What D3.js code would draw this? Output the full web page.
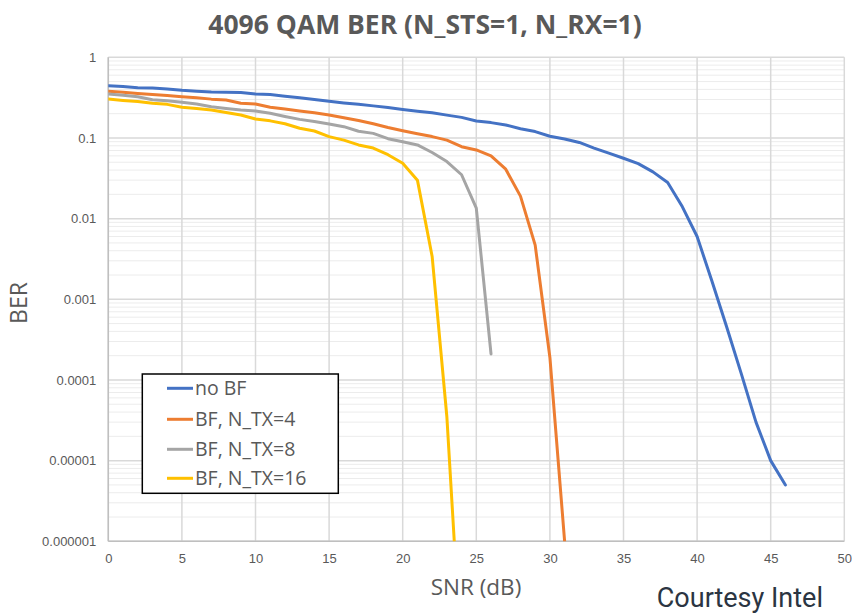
<!DOCTYPE html>
<html><head><meta charset="utf-8">
<script src="https://cdn.jsdelivr.net/npm/d3@7"></script>
<style>body{margin:0;background:#fff}svg{display:block}</style>
</head><body>
<script>
const seriesNames = ["no BF", "BF, N_TX=4", "BF, N_TX=8", "BF, N_TX=16"];
const seriesColors = ["#4472C4", "#ED7D31", "#A5A5A5", "#FFC000"];
const snrNoBF = d3.range(0, 47);
const berNoBF = [0.445,0.435,0.42,0.415,0.405,0.39,0.38,0.372,0.368,0.365,0.35,0.345,0.33,0.315,0.30,0.285,0.272,0.262,0.25,0.238,0.226,0.215,0.205,0.192,0.18,0.162,0.155,0.145,0.13,0.12,0.105,0.097,0.088,0.075,0.065,0.056,0.048,0.038,0.028,0.014,0.006,0.0017,0.00046,0.00012,0.00003,0.00001,0.000005];
const snrTx4 = d3.range(0, 32);
const berTx4 = [0.38,0.37,0.357,0.345,0.335,0.325,0.315,0.303,0.295,0.27,0.263,0.24,0.228,0.216,0.205,0.193,0.178,0.165,0.15,0.135,0.123,0.113,0.104,0.094,0.078,0.071,0.06,0.041,0.019,0.0047,0.00019,0.000001];
const snrTx8 = d3.range(0, 27);
const berTx8 = [0.35,0.338,0.325,0.298,0.29,0.277,0.264,0.244,0.232,0.222,0.216,0.202,0.185,0.17,0.16,0.149,0.138,0.121,0.114,0.098,0.09,0.082,0.066,0.051,0.035,0.0135,0.00021];
const snrTx16 = d3.range(0, 25);
const berTx16 = [0.304,0.292,0.283,0.27,0.261,0.24,0.232,0.222,0.207,0.193,0.172,0.163,0.15,0.132,0.122,0.104,0.094,0.082,0.075,0.062,0.0485,0.03,0.0034,0.000035,0.00000003];
const xTicks = [0,5,10,15,20,25,30,35,40,45,50];
const yTickLabels = ["1","0.1","0.01","0.001","0.0001","0.00001","0.000001"];
const titleText = "4096 QAM BER (N_STS=1, N_RX=1)";

const series = [
  {x: snrNoBF, y: berNoBF},
  {x: snrTx4, y: berTx4},
  {x: snrTx8, y: berTx8},
  {x: snrTx16, y: berTx16}
];

const W = 852, H = 614;
const L = 108.3, R = 844.3, T = 57.3, B = 541.3;
const svg = d3.select("body").append("svg").attr("width", W).attr("height", H)
  .style("font-family", "'Open Sans', 'Liberation Sans', sans-serif");

const x = d3.scaleLinear().domain([0, 50]).range([L, R]);
const y = d3.scaleLog().domain([1e-6, 1]).range([B, T]);

// minor gridlines
const minor = [];
for (let e = -6; e < 0; e++) for (let m = 2; m <= 9; m++) minor.push(m * Math.pow(10, e));
svg.append("g").selectAll("line").data(minor).join("line")
  .attr("x1", L).attr("x2", R).attr("y1", d => y(d)).attr("y2", d => y(d))
  .attr("stroke", "#ececec").attr("stroke-width", 1);

// major horizontal gridlines
const majors = yTickLabels.map(Number);
svg.append("g").selectAll("line").data(majors).join("line")
  .attr("x1", L).attr("x2", R).attr("y1", d => y(d)).attr("y2", d => y(d))
  .attr("stroke", "#d9d9d9").attr("stroke-width", 1.5);

// vertical gridlines
svg.append("g").selectAll("line").data(xTicks).join("line")
  .attr("x1", d => x(d)).attr("x2", d => x(d)).attr("y1", T).attr("y2", B)
  .attr("stroke", "#d9d9d9").attr("stroke-width", 1.5);

// axes lines
svg.append("line").attr("x1", L).attr("x2", L).attr("y1", T).attr("y2", B).attr("stroke", "#bfbfbf").attr("stroke-width", 1.5);
svg.append("line").attr("x1", L).attr("x2", R).attr("y1", B).attr("y2", B).attr("stroke", "#bfbfbf").attr("stroke-width", 1.5);

// axis tick labels
const xAxis = d3.axisBottom(x).tickValues(xTicks).tickSize(0).tickPadding(12).tickFormat(d3.format("d"));
const gx = svg.append("g").attr("transform", `translate(0,${B})`).call(xAxis);
gx.select(".domain").remove();
gx.selectAll("text").attr("fill", "#595959").style("font-size", "13px");

const yAxis = d3.axisLeft(y).tickValues(majors).tickSize(0).tickPadding(12)
  .tickFormat((d, i) => yTickLabels[i]);
const gy = svg.append("g").attr("transform", `translate(${L},0)`).call(yAxis);
gy.select(".domain").remove();
gy.selectAll("text").attr("fill", "#595959").style("font-size", "13px");

// clip
svg.append("clipPath").attr("id", "clip").append("rect")
  .attr("x", L).attr("y", T).attr("width", R - L).attr("height", B - T);

const line = d3.line().x(d => x(d[0])).y(d => y(d[1]));
svg.append("g").attr("clip-path", "url(#clip)").selectAll("path").data(series).join("path")
  .attr("d", s => line(s.x.map((v, i) => [v, s.y[i]])))
  .attr("fill", "none").attr("stroke", (s, i) => seriesColors[i])
  .attr("stroke-width", 3).attr("stroke-linejoin", "round").attr("stroke-linecap", "round");

// title
svg.append("text").attr("x", 425).attr("y", 34).attr("text-anchor", "middle")
  .style("font-size", "26.5px").style("font-weight", "bold").attr("fill", "#595959").text(titleText);

// axis titles
svg.append("text").attr("transform", "translate(27,303) rotate(-90)").attr("text-anchor", "middle")
  .style("font-size", "23px").attr("fill", "#595959").text("BER");
svg.append("text").attr("x", 476).attr("y", 595).attr("text-anchor", "middle")
  .style("font-size", "22.5px").attr("fill", "#595959").text("SNR (dB)");

// legend
const lg = svg.append("g");
lg.append("rect").attr("x", 142.3).attr("y", 374).attr("width", 196).attr("height", 119.3)
  .attr("fill", "#fff").attr("stroke", "#000").attr("stroke-width", 1.5);
const ly = [388.3, 419.3, 449.3, 478.3];
seriesNames.forEach((n, i) => {
  lg.append("line").attr("x1", 167).attr("x2", 193).attr("y1", ly[i]).attr("y2", ly[i])
    .attr("stroke", seriesColors[i]).attr("stroke-width", 3);
  lg.append("text").attr("x", 195).attr("y", ly[i]).attr("dy", "0.35em")
    .style("font-size", "19.5px").attr("fill", "#595959").text(n);
});

// courtesy
svg.append("text").attr("x", 823).attr("y", 607).attr("text-anchor", "end")
  .style("font-family", "Roboto, 'Liberation Sans', sans-serif")
  .style("font-size", "27px").attr("fill", "#2b3542").text("Courtesy Intel");
</script>
</body></html>
